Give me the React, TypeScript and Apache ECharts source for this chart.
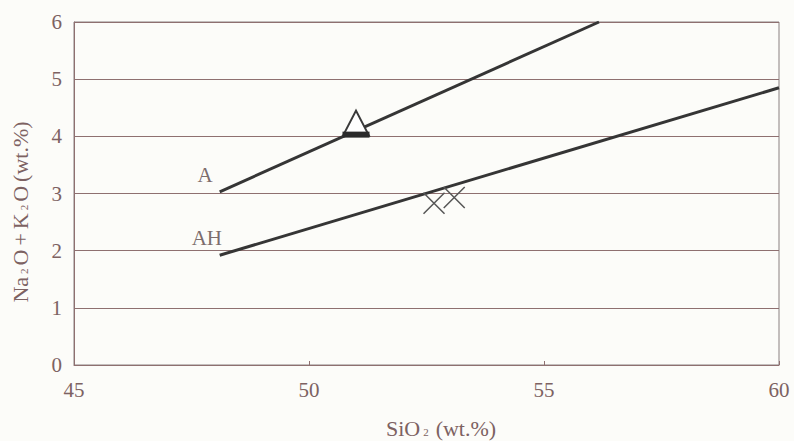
import React, { useEffect, useRef } from "react";
import * as echarts from "echarts";

const lineA: [number, number][] = [[48.1, 3.03], [56.17, 6]];
const lineAH: [number, number][] = [[48.1, 1.92], [60, 4.85]];
const triangleOpen: [number, number][] = [[51.0, 4.23]];
const triangleBar: [number, number][] = [[51.0, 4.03]];
const crosses: [number, number][] = [[52.66, 2.83], [53.09, 2.93]];
const lineLabels = [
  { name: "A", x: 47.95, y: 3.33 },
  { name: "AH", x: 48.15, y: 2.22 },
];

const FONT = "'Liberation Serif', 'DejaVu Serif', serif";
const GRID_COLOR = "#8e7070";
const TEXT_COLOR = "#7d6262";

export default function App() {
  const ref = useRef<HTMLDivElement>(null);
  useEffect(() => {
    document.body.style.margin = "0";
    if (!ref.current) return;
    const chart = echarts.init(ref.current, undefined, { renderer: "svg" });
    const rich = {
      n: { fontFamily: FONT, fontSize: 22, fill: TEXT_COLOR },
      p: { fontFamily: FONT, fontSize: 22, fill: TEXT_COLOR, padding: [0, 4, 0, 4] },
      q: { fontFamily: FONT, fontSize: 22, fill: TEXT_COLOR, padding: [0, 0, 0, 4] },
      s: { fontFamily: FONT, fontSize: 11, fill: TEXT_COLOR, padding: [8, 3, 0, 3] },
    };
    chart.setOption({
      animation: false,
      backgroundColor: "#fcfcf9",
      grid: {
        left: 74,
        right: 15,
        top: 22,
        bottom: 76,
        outerBoundsMode: "none",
        containLabel: false,
        show: true,
        borderColor: "#8a8080",
        borderWidth: 1,
        backgroundColor: "transparent",
      },
      graphic: [
        {
          type: "text",
          x: 20,
          y: 212,
          rotation: Math.PI / 2,
          style: {
            text: "{n|Na}{s|2}{n|O}{p|+}{n|K}{s|2}{n|O}{q|(}{n|wt.%)}",
            align: "center",
            verticalAlign: "middle",
            rich,
          },
        },
        {
          type: "text",
          x: 441,
          y: 428,
          style: {
            text: "{n|SiO}{s|2}{q|(}{n|wt.%)}",
            align: "center",
            verticalAlign: "middle",
            rich,
          },
        },
      ],
      xAxis: {
        type: "value",
        min: 45,
        max: 60,
        interval: 5,
        axisLine: { show: true, lineStyle: { color: GRID_COLOR, width: 1 } },
        axisTick: { show: true, inside: true, length: 4, lineStyle: { color: GRID_COLOR } },
        splitLine: { show: false },
        axisLabel: {
          color: TEXT_COLOR,
          fontFamily: FONT,
          fontSize: 21,
          margin: 14,
        },
      },
      yAxis: {
        type: "value",
        min: 0,
        max: 6,
        interval: 1,
        axisLine: { show: true, lineStyle: { color: GRID_COLOR, width: 1 } },
        axisTick: { show: false },
        splitLine: { show: true, lineStyle: { color: GRID_COLOR, width: 1 } },
        axisLabel: {
          color: TEXT_COLOR,
          fontFamily: FONT,
          fontSize: 21,
          margin: 12,
        },
      },
      series: [
        {
          type: "line",
          data: lineA,
          showSymbol: false,
          lineStyle: { color: "#353535", width: 3 },
          silent: true,
        },
        {
          type: "line",
          data: lineAH,
          showSymbol: false,
          lineStyle: { color: "#353535", width: 3 },
          silent: true,
        },
        {
          type: "scatter",
          data: triangleOpen,
          symbol: "triangle",
          symbolSize: [26, 25],
          itemStyle: { color: "#ffffff", borderColor: "#3a3a3a", borderWidth: 2, opacity: 1 },
          z: 4,
        },
        {
          type: "scatter",
          data: triangleBar,
          symbol: "rect",
          symbolSize: [27, 6],
          itemStyle: { color: "#2a2a2a", opacity: 1 },
          z: 5,
        },
        {
          type: "scatter",
          data: crosses,
          symbol: "path://M0,0L10,10M10,0L0,10",
          symbolSize: 21,
          itemStyle: { color: "none", borderColor: "#555555", borderWidth: 1.5, opacity: 1 },
          z: 4,
        },
        {
          type: "scatter",
          data: lineLabels.map((d) => ({ value: [d.x, d.y], name: d.name })),
          symbolSize: 0,
          label: {
            show: true,
            position: "left",
            formatter: (p: any) => p.name,
            fontFamily: FONT,
            fontSize: 21,
            color: "#5a4646",
            distance: 0,
          },
          z: 5,
        },
      ],
    });
    return () => chart.dispose();
  }, []);
  return <div ref={ref} style={{ width: 794, height: 441 }} />;
}
